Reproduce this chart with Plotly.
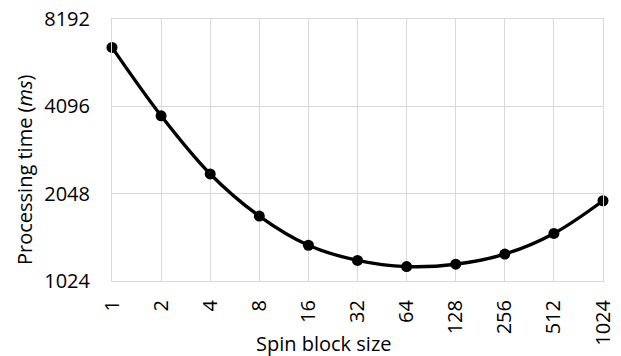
import plotly.graph_objects as go
import math

block_sizes = ["1", "2", "4", "8", "16", "32", "64", "128", "256", "512", "1024"]
times_ms = [6540, 3800, 2395, 1715, 1360, 1206, 1148, 1170, 1268, 1494, 1936]
y_ticks = [1024, 2048, 4096, 8192]

FONT = "Open Sans"
FS = 20

fig = go.Figure()
fig.add_trace(go.Scatter(
    x=block_sizes, y=times_ms,
    mode="lines+markers",
    line=dict(color="black", width=3.4, shape="spline", smoothing=1.0),
    marker=dict(color="black", size=11),
    cliponaxis=False,
    showlegend=False,
))

fig.update_layout(
    width=621, height=356,
    margin=dict(l=112, r=18, t=19, b=75),
    paper_bgcolor="white", plot_bgcolor="white",
    font=dict(family=FONT, size=FS, color="#000000"),
    annotations=[
        dict(text="Spin block size", xref="paper", yref="paper",
             x=0.431, y=-0.237, xanchor="center", yanchor="middle",
             showarrow=False, font=dict(size=FS)),
        dict(text="Processing time (<i>ms</i>)", xref="paper", yref="paper",
             x=-0.177, y=0.424, xanchor="center", yanchor="middle",
             textangle=-90, showarrow=False, font=dict(size=FS)),
    ],
)
fig.update_xaxes(
    type="category", range=[0, 10],
    tickangle=-90, automargin=False,
    showgrid=True, gridcolor="#d9d9d9", gridwidth=1,
    showline=True, linecolor="#d9d9d9", mirror=True,
    ticks="", ticklabelstandoff=10,
)
fig.update_yaxes(
    type="log", range=[math.log10(1024), math.log10(8192)],
    tickvals=y_ticks, ticktext=[str(v) for v in y_ticks],
    automargin=False,
    showgrid=True, gridcolor="#d9d9d9", gridwidth=1,
    showline=True, linecolor="#d9d9d9", mirror=True,
    ticks="", ticklabelstandoff=17,
)

fig.write_html(
    "out.html",
    config={"displayModeBar": False},
    post_script="document.body.style.margin='0';document.body.style.overflow='hidden';",
)
